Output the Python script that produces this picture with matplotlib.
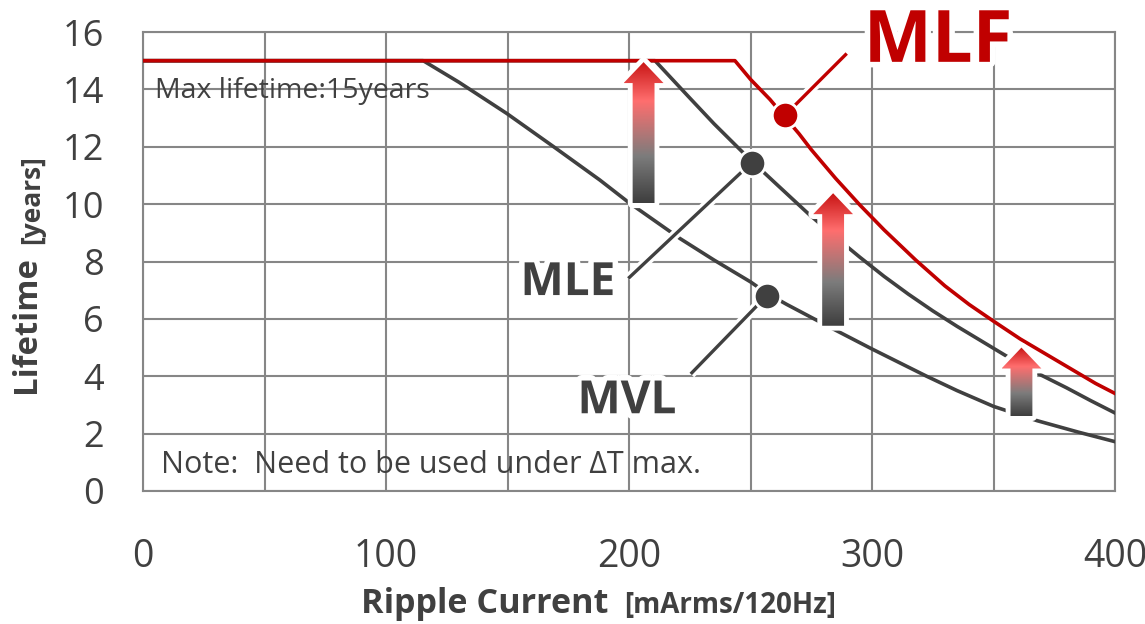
import numpy as np
import matplotlib
matplotlib.use("Agg")
import matplotlib.pyplot as plt
import matplotlib.patheffects as pe
from matplotlib.patches import Polygon
from matplotlib.colors import LinearSegmentedColormap

plt.rcParams['font.family'] = ['Open Sans', 'DejaVu Sans']

RED = '#C00000'
DARK = '#404040'
GRID = '#868686'

# --- curves (ripple current mArms, lifetime years)
mlf_x = [0, 243.6, 250, 258, 264, 270, 275, 285, 295, 305, 318, 330, 340, 350, 361, 370, 377, 384, 392, 400]
mlf_y = [15, 15, 14.35, 13.65, 13.05, 12.45, 11.9, 10.9, 9.97, 9.1, 8.05, 7.15, 6.5, 5.92, 5.3, 4.85, 4.5, 4.15, 3.75, 3.4]

mle_x = [0, 210.7, 225, 235, 245.7, 250.5, 260, 267, 274, 285, 295, 305, 315, 325, 335, 345, 355, 367, 380, 390, 400]
mle_y = [15, 15, 13.7, 12.8, 11.9, 11.5, 10.75, 10.2, 9.65, 8.85, 8.15, 7.48, 6.86, 6.28, 5.74, 5.23, 4.72, 4.15, 3.6, 3.15, 2.72]

mvl_x = [0, 115.3, 130, 149.7, 169, 188, 200, 221, 235, 250, 256.6, 265, 284, 300, 322.5, 335, 350, 368, 385, 400]
mvl_y = [15, 15, 14.25, 13.16, 12.0, 10.84, 10.05, 8.8, 8.05, 7.29, 6.9, 6.5, 5.65, 4.95, 4.0, 3.5, 2.95, 2.45, 2.05, 1.72]

# --- markers, labels and improvement arrows
series_names = ['MLF', 'MLE', 'MVL']
series_colors = [RED, DARK, DARK]
dot_x = [264.2, 250.5, 256.6]
dot_y = [13.1, 11.45, 6.8]
leader_end_x = [289.6, 199.7, 225.4]
leader_end_y = [15.25, 7.41, 4.08]
label_x = [327.2, 174.9, 199.2]
label_y = [14.96, 6.83, 2.71]
label_size = [52, 33, 33]

arrow_x = [206, 284, 361.5]
arrow_bottom = [10.03, 5.76, 2.61]
arrow_top = [14.95, 10.38, 5.0]

x_ticks = [0, 100, 200, 300, 400]
y_ticks = list(range(0, 17, 2))

fig = plt.figure(figsize=(11.45, 6.24), dpi=100)
ax = fig.add_axes([143 / 1145, 133 / 624, 972 / 1145, 459 / 624])

ax.plot(mvl_x, mvl_y, color=DARK, lw=2.6, zorder=3, solid_joinstyle='round')
ax.plot(mle_x, mle_y, color=DARK, lw=2.6, zorder=3, solid_joinstyle='round')
ax.plot(mlf_x, mlf_y, color=RED, lw=2.6, zorder=3, solid_joinstyle='round')

# gradient arrows with white outline
cmap = LinearSegmentedColormap.from_list(
    'arr', [(0, '#3e3e3e'), (0.33, '#7c7c7c'), (0.72, '#ff6e6e'), (1.0, '#c81414')])
grad = np.linspace(0, 1, 256).reshape(-1, 1)
bw, hw, hh = 4.5, 8.2, 0.73
for xc, y0, y1 in zip(arrow_x, arrow_bottom, arrow_top):
    pts = [(xc - bw, y0), (xc + bw, y0), (xc + bw, y1 - hh), (xc + hw, y1 - hh),
           (xc, y1), (xc - hw, y1 - hh), (xc - bw, y1 - hh)]
    outline = Polygon(pts, closed=True, facecolor='white', edgecolor='white',
                      lw=7, joinstyle='round', zorder=4)
    ax.add_patch(outline)
    clip = Polygon(pts, closed=True, transform=ax.transData, facecolor='none', edgecolor='none')
    ax.add_patch(clip)
    im = ax.imshow(grad, extent=[xc - hw, xc + hw, y0, y1], origin='lower',
                   cmap=cmap, aspect='auto', zorder=4.5, interpolation='bilinear')
    im.set_clip_path(clip)

halo = [pe.Stroke(linewidth=7, foreground='white'), pe.Normal()]
for i in range(3):
    ax.plot([dot_x[i], leader_end_x[i]], [dot_y[i], leader_end_y[i]],
            color=series_colors[i], lw=2.4, zorder=5, path_effects=halo,
            solid_capstyle='butt')
    ax.plot(dot_x[i], dot_y[i], 'o', ms=19, color=series_colors[i],
            mec='white', mew=2, zorder=6)
    ax.text(label_x[i], label_y[i], series_names[i], color=series_colors[i],
            fontsize=label_size[i], fontweight='bold', ha='center', va='baseline',
            zorder=7, clip_on=False,
            path_effects=[pe.Stroke(linewidth=8, foreground='white'), pe.Normal()])

ax.text(4.9, 13.69, 'Max lifetime:15years', fontsize=20.5, color=DARK,
        ha='left', va='baseline', zorder=2)
ax.text(7.4, 0.62, 'Note:  Need to be used under \u0394T max.', fontsize=22,
        color=DARK, ha='left', va='baseline', zorder=2)

ax.set_xlim(0, 400)
ax.set_ylim(0, 16)
ax.set_xticks(x_ticks)
ax.set_xticks([50, 150, 250, 350], minor=True)
ax.set_yticks(y_ticks)
ax.grid(which='both', color=GRID, lw=1.5, zorder=0)
ax.set_axisbelow(True)
ax.tick_params(which='both', length=0)
ax.tick_params(axis='x', labelsize=27, pad=34, labelcolor=DARK)
ax.tick_params(axis='y', labelsize=26, pad=28, labelcolor=DARK)
for s in ax.spines.values():
    s.set_color(GRID)
    s.set_linewidth(1.5)

# axis titles
fig.text(608 / 1145, 1 - 613 / 624, 'Ripple Current', fontsize=24.6, fontweight='bold',
         color=DARK, ha='right', va='baseline')
fig.text(624 / 1145, 1 - 613 / 624, '[mArms/120Hz]', fontsize=20, fontweight='bold',
         color=DARK, ha='left', va='baseline')
fig.text(43 / 1145, 1 - 393 / 624, 'Lifetime', fontsize=23.7, fontweight='bold',
         color=DARK, rotation=90, ha='right', va='bottom')
fig.text(45 / 1145, 1 - 244 / 624, '[years]', fontsize=19, fontweight='bold',
         color=DARK, rotation=90, ha='right', va='bottom')

fig.savefig('out.png', dpi=100)
